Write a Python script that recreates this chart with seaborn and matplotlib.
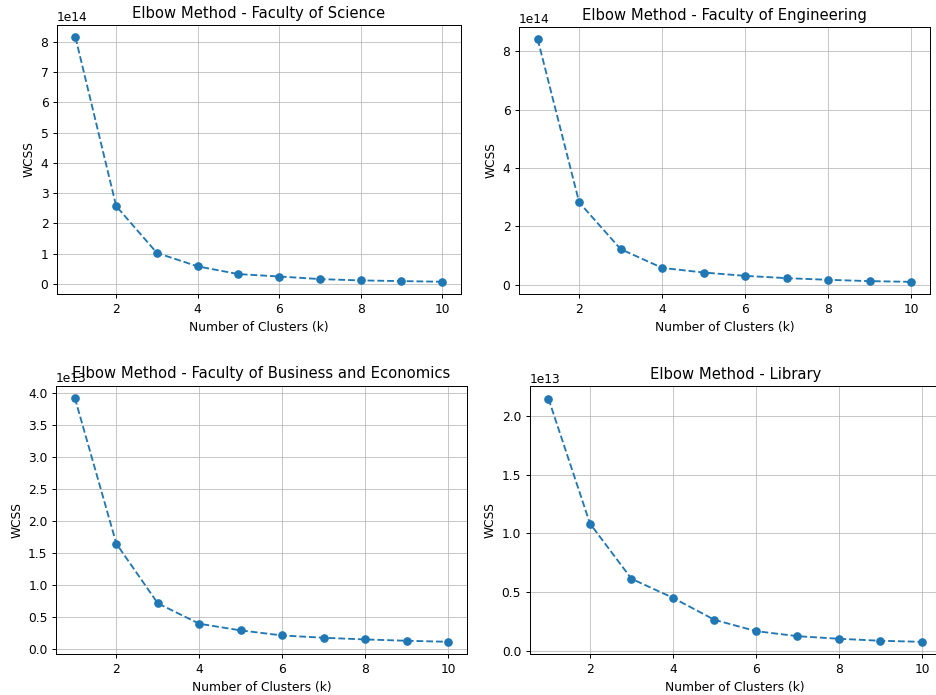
"""
Elbow method charts (WCSS vs number of clusters) for four campus units.
"""

import pandas as pd
import matplotlib.pyplot as plt
import seaborn as sns

# ──────────────────────────────────────────────────────────────────────
# Data
# ──────────────────────────────────────────────────────────────────────
k_values = [1, 2, 3, 4, 5, 6, 7, 8, 9, 10]

wcss_science = [8.16e14, 2.57e14, 1.02e14, 0.575e14, 0.32e14,
                0.24e14, 0.155e14, 0.11e14, 0.088e14, 0.066e14]
wcss_engineering = [8.41e14, 2.82e14, 1.22e14, 0.578e14, 0.42e14,
                    0.305e14, 0.227e14, 0.17e14, 0.125e14, 0.10e14]
wcss_business = [3.93e13, 1.65e13, 0.716e13, 0.397e13, 0.293e13,
                 0.214e13, 0.178e13, 0.152e13, 0.131e13, 0.115e13]
wcss_library = [2.147e13, 1.085e13, 0.615e13, 0.453e13, 0.266e13,
                0.17e13, 0.127e13, 0.105e13, 0.088e13, 0.079e13]

faculties = ['Faculty of Science', 'Faculty of Engineering',
             'Faculty of Business and Economics', 'Library']
wcss_series = [wcss_science, wcss_engineering, wcss_business, wcss_library]

# ──────────────────────────────────────────────────────────────────────
# Figure setup -- the reference looks like a default matplotlib figure
# shrunk to ~88.5% size, so render at a lower dpi with a larger canvas
# ──────────────────────────────────────────────────────────────────────
DPI = 88.5
plt.rcParams['font.size'] = 10
fig = plt.figure(figsize=(936 / DPI, 695 / DPI), dpi=DPI)

# axes rectangles [left, bottom, width, height] in figure fraction
axes_pos = [
    [0.061, 0.577, 0.431, 0.387],
    [0.5545, 0.577, 0.439, 0.384],
    [0.060, 0.059, 0.439, 0.386],
    [0.566, 0.059, 0.439, 0.385],
]

color = '#1f77b4'

for name, wcss, pos in zip(faculties, wcss_series, axes_pos):
    ax = fig.add_axes(pos)
    df = pd.DataFrame({'k': k_values, 'wcss': wcss})
    sns.lineplot(data=df, x='k', y='wcss', ax=ax, color=color,
                 linestyle='--', marker='o', markersize=6,
                 markeredgecolor=color, markeredgewidth=1)
    # fixed y -> title is not pushed up by the 1e13/1e14 offset text
    ax.set_title(f'Elbow Method - {name}', fontsize=12, y=1.0)
    ax.set_xlabel('Number of Clusters (k)')
    ax.set_ylabel('WCSS')
    ax.set_xticks([2, 4, 6, 8, 10])
    ax.grid(True, color='#b0b0b0', linewidth=0.8, alpha=0.7)

fig.savefig('out.png', dpi=DPI)
plt.close(fig)
